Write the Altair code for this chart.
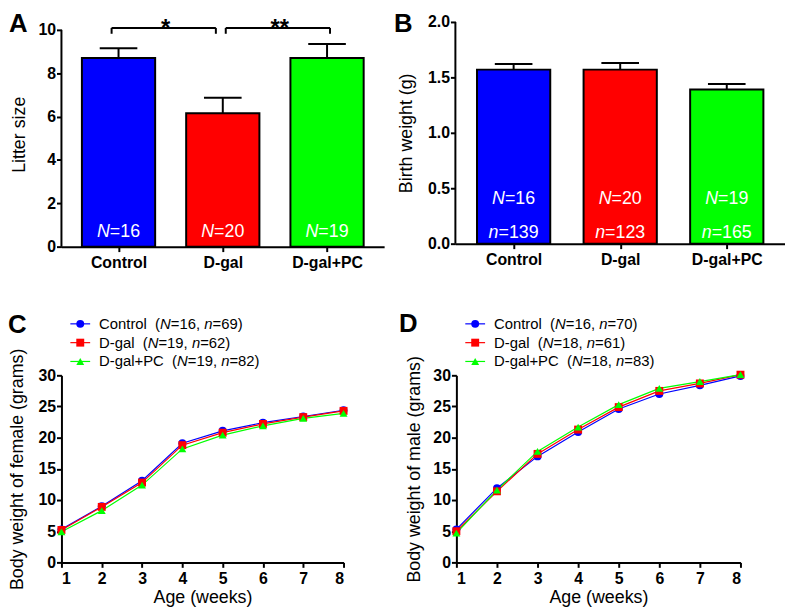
import altair as alt
import pandas as pd

FONT = "Liberation Sans"

# ---------------- data ----------------
groups = ["Control", "D-gal", "D-gal+PC"]
colors = ["#0000FF", "#FF0000", "#00FF00"]
shapes = ["circle", "square", "triangle-up"]

litter_mean = [8.70, 6.15, 8.70]
litter_upper = [9.15, 6.87, 9.35]
litter_N = [16, 20, 19]

birth_mean = [1.57, 1.57, 1.39]
birth_upper = [1.62, 1.63, 1.44]
birth_N = [16, 20, 19]
birth_n = [139, 123, 165]

sig_from = ["Control", "D-gal"]
sig_to = ["D-gal", "D-gal+PC"]
sig_label = ["*", "**"]

weeks = [1, 2, 3, 4, 5, 6, 7, 8]
female_control = [5.3, 9.0, 13.1, 19.1, 21.1, 22.4, 23.4, 24.4]
female_dgal = [5.2, 8.9, 12.8, 18.8, 20.8, 22.2, 23.3, 24.3]
female_dgalpc = [4.9, 8.3, 12.4, 18.2, 20.4, 21.9, 23.1, 23.9]
female_N = [16, 19, 19]
female_n = [69, 62, 82]

male_control = [5.3, 11.9, 17.0, 20.9, 24.6, 27.0, 28.4, 29.9]
male_dgal = [5.0, 11.4, 17.4, 21.3, 24.9, 27.5, 28.7, 30.1]
male_dgalpc = [4.7, 11.6, 17.8, 21.7, 25.3, 27.9, 29.0, 30.1]
male_N = [16, 18, 18]
male_n = [70, 61, 83]

# ---------------- helpers ----------------
ARIAL = {' ': 278, '\u00a0': 278, '(': 333, ')': 333, ',': 278, '-': 333, '+': 584, '=': 584,
         'A': 667, 'B': 667, 'C': 722, 'D': 722, 'N': 722, 'P': 667, 'a': 556,
         'e': 556, 'g': 556, 'l': 222, 'n': 556, 'o': 556, 'r': 333, 't': 278}


def tw(s, size):
    return sum(ARIAL.get(c, 556) for c in s) * size / 1000.0


color_enc = alt.Color("group:N", scale=alt.Scale(domain=groups, range=colors), legend=None)
shape_enc = alt.Shape("group:N", scale=alt.Scale(domain=groups, range=shapes), legend=None)


def letter_layer(letter, dx, dy):
    return alt.Chart(pd.DataFrame({"t": [letter]})).mark_text(
        font=FONT, fontSize=26, fontWeight="bold", align="left", baseline="alphabetic",
        color="black").encode(text="t:N", x=alt.value(dx), y=alt.value(dy))


def bar_panel(letter, means, uppers, ylabel, ymax, ytop_scale, yvals, yfmt, width, height,
              text_rows, letter_xy, title_pad, brackets=None):
    pos = list(range(1, len(groups) + 1))
    df = pd.DataFrame({"pos": pos, "group": groups, "mean": means, "upper": uppers})
    label_expr = "[" + ",".join("'%s'" % g for g in groups) + "][datum.value-1]"
    xscale = alt.Scale(domain=[0.5, len(groups) + 0.5], nice=False, zero=False)
    xaxis = alt.Axis(values=pos, labelExpr=label_expr, title=None, grid=False, labelPadding=3)
    yscale = alt.Scale(domain=[0, ytop_scale], nice=False)
    yaxis = alt.Axis(values=yvals, format=yfmt, title=ylabel, titlePadding=title_pad,
                     labelPadding=1, domain=False)

    def X(f):
        return alt.X(f, scale=xscale, axis=xaxis)

    def Y(f):
        return alt.Y(f, scale=yscale, axis=yaxis)

    base = alt.Chart(df)
    # y axis line from 0 to the last tick
    yline = alt.Chart(pd.DataFrame({"lo": [0], "hi": [ymax]})).mark_rule(
        color="black", strokeWidth=2).encode(x=alt.value(0), y=Y("lo:Q"), y2="hi:Q")
    bars = base.mark_bar(orient="vertical", width=74, stroke="black", strokeWidth=2).encode(
        x=X("pos:Q"), y=Y("mean:Q"), color=color_enc)
    err = base.mark_rule(color="black", strokeWidth=2).encode(
        x=X("pos:Q"), y=Y("mean:Q"), y2="upper:Q")
    cap = base.mark_tick(orient="horizontal", size=38, thickness=2, color="black", opacity=1).encode(
        x=X("pos:Q"), y=Y("upper:Q"))
    layers = [bars, err, cap, yline]

    fs = 18
    for prefix, values, yval in text_rows:
        rest = ["=%s" % v for v in values]
        total = tw(prefix + rest[0], fs)
        tdf = pd.DataFrame({"pos": pos, "p": [prefix] * len(pos), "r": rest})
        layers.append(alt.Chart(tdf).mark_text(
            font=FONT, fontSize=fs, fontStyle="italic", color="white", align="left",
            dx=-total / 2).encode(x=X("pos:Q"), y=alt.datum(yval), text="p:N"))
        layers.append(alt.Chart(tdf).mark_text(
            font=FONT, fontSize=fs, color="white", align="left",
            dx=-total / 2 + tw(prefix, fs)).encode(x=X("pos:Q"), y=alt.datum(yval), text="r:N"))

    if brackets:
        ytop, ybot, ystar, offsets = brackets
        for f, t, lab, off in zip(sig_from, sig_to, sig_label, offsets):
            p1 = groups.index(f) + 1
            p2 = groups.index(t) + 1
            bdf = pd.DataFrame({"a": [p1], "b": [p2], "m": [(p1 + p2) / 2], "lab": [lab]})
            edf = pd.DataFrame({"pos": [p1, p2]})
            layers.append(alt.Chart(bdf).mark_rule(color="black", strokeWidth=2, xOffset=off, x2Offset=off).encode(
                x=X("a:Q"), x2="b:Q", y=alt.datum(ytop)))
            layers.append(alt.Chart(edf).mark_rule(color="black", strokeWidth=2, xOffset=off).encode(
                x=X("pos:Q"), y=alt.datum(ytop), y2=alt.datum(ybot)))
            layers.append(alt.Chart(bdf).mark_text(font=FONT, fontSize=24, fontWeight="bold",
                                                    color="black", dx=off + 2).encode(
                x=X("m:Q"), y=alt.datum(ystar), text="lab:N"))

    layers.append(letter_layer(letter, *letter_xy))
    return alt.layer(*layers).properties(width=width, height=height)


def line_panel(letter, series, Ns, ns, ylabel, width, height, letter_xy, title_pad):
    rows = []
    for g, vals in zip(groups, series):
        for w, v in zip(weeks, vals):
            rows.append({"group": g, "week": w, "weight": v})
    df = pd.DataFrame(rows)
    x = alt.X("week:Q", scale=alt.Scale(domain=[1, 8], nice=False, zero=False),
              axis=alt.Axis(values=weeks, format="d", title="Age (weeks)", labelPadding=3, titlePadding=3))
    y = alt.Y("weight:Q", scale=alt.Scale(domain=[0, 30], nice=False),
              axis=alt.Axis(values=[0, 5, 10, 15, 20, 25, 30], title=ylabel,
                            titlePadding=title_pad, labelPadding=1))
    lines = alt.Chart(df).mark_line(strokeWidth=1.2).encode(x=x, y=y, color=color_enc)
    pts = alt.Chart(df).mark_point(filled=True, size=64, opacity=1).encode(
        x=x, y=y, color=color_enc, shape=shape_enc)

    # legend (drawn above the plot area)
    lfs = 15
    row_y = [-52, -33, -14]
    leg = pd.DataFrame({"group": groups, "ly": row_y,
                        "x1": [9] * 3, "x2": [29] * 3, "xm": [19] * 3})
    segs_n, segs_i = [], []
    for g, N, n, yy in zip(groups, Ns, ns, row_y):
        parts = [(g + "\u00a0\u00a0(", False), ("N", True), ("=%d, " % N, False),
                 ("n", True), ("=%d)" % n, False)]
        xx = 38
        for s, it in parts:
            (segs_i if it else segs_n).append({"s": s, "sx": xx, "ly": yy})
            xx += tw(s, lfs)
    leg_rule = alt.Chart(leg).mark_rule(strokeWidth=1.2).encode(
        x=alt.X("x1:Q", scale=None), x2="x2:Q", y=alt.Y("ly:Q", scale=None), color=color_enc)
    leg_pt = alt.Chart(leg).mark_point(filled=True, size=64, opacity=1).encode(
        x=alt.X("xm:Q", scale=None), y=alt.Y("ly:Q", scale=None), color=color_enc, shape=shape_enc)
    leg_tn = alt.Chart(pd.DataFrame(segs_n)).mark_text(
        font=FONT, fontSize=lfs, align="left", baseline="middle", color="black").encode(
        x=alt.X("sx:Q", scale=None), y=alt.Y("ly:Q", scale=None), text="s:N")
    leg_ti = alt.Chart(pd.DataFrame(segs_i)).mark_text(
        font=FONT, fontSize=lfs, fontStyle="italic", align="left", baseline="middle", color="black").encode(
        x=alt.X("sx:Q", scale=None), y=alt.Y("ly:Q", scale=None), text="s:N")

    return alt.layer(lines, pts, leg_rule, leg_pt, leg_tn, leg_ti,
                     letter_layer(letter, *letter_xy)).properties(width=width, height=height)


# A: plot area extends above the last tick (10) so that B's top sits higher, as in the figure
A = bar_panel("A", litter_mean, litter_upper, "Litter size", 10, 10.365, [0, 2, 4, 6, 8, 10], "d",
              326, 227, [("N", litter_N, 0.685)], (-53, 10), 10,
              brackets=(10.09, 9.82, 10.05, [-7, 3]))
B = bar_panel("B", birth_mean, birth_upper, "Birth weight (g)", 2.0, 2.0, [0, 0.5, 1.0, 1.5, 2.0], ".1f",
              333, 224, [("N", birth_N, 0.40), ("n", birth_n, 0.1)], (-62, 10), 12)
C = line_panel("C", [female_control, female_dgal, female_dgalpc], female_N, female_n,
               "Body weight of female (grams)", 285, 189, (-54, -43), 12)
D = line_panel("D", [male_control, male_dgal, male_dgalpc], male_N, male_n,
               "Body weight of male (grams)", 287, 189, (-58, -44), 9)

top = alt.hconcat(A, B, spacing=10)
bottom = alt.hconcat(C, D, spacing=52)
chart = alt.vconcat(top, bottom, spacing=41).properties(padding=0).configure_view(
    stroke=None).configure_axis(
    domainColor="black", domainWidth=2, tickColor="black", tickWidth=2, tickSize=5,
    labelFont=FONT, labelFontSize=16, labelFontWeight="bold", labelColor="black",
    titleFont=FONT, titleFontSize=18, titleFontWeight="normal", titleColor="black",
    grid=False).configure_text(font=FONT)

chart.save("out.html", embed_options={"renderer": "svg", "actions": False})
